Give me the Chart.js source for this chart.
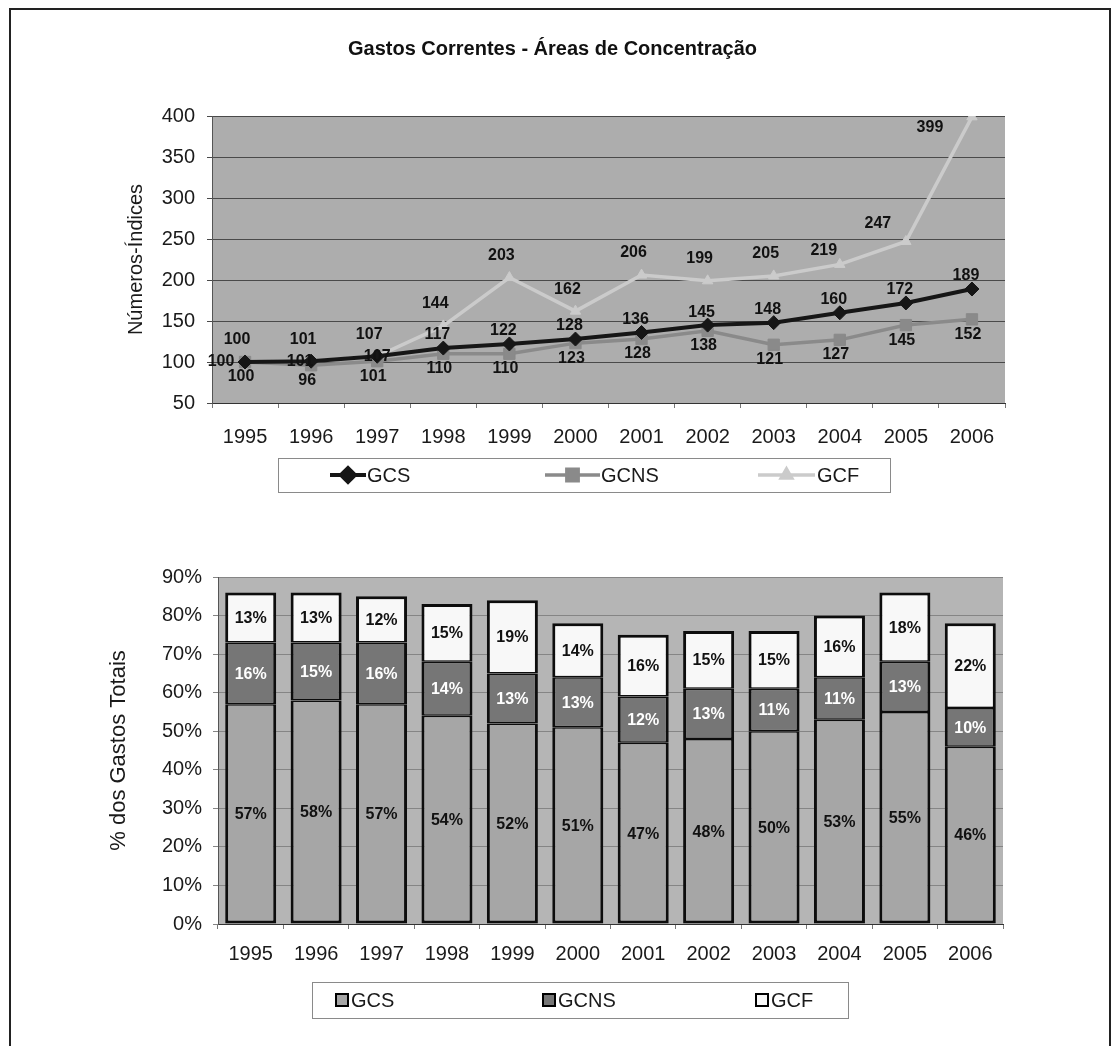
<!DOCTYPE html>
<html><head><meta charset="utf-8">
<script src="https://cdn.jsdelivr.net/npm/chart.js@4.4.1/dist/chart.umd.min.js"></script>
<style>
html,body{margin:0;padding:0;background:#fff;}
body{width:1114px;height:1046px;position:relative;overflow:hidden;}
#frame{position:absolute;left:9px;top:8px;width:1098px;height:1060px;border:2px solid #222;border-bottom:none;}
#w1{position:absolute;left:0;top:0;width:1114px;height:520px;}
#w2{position:absolute;left:0;top:520px;width:1114px;height:526px;}
canvas{display:block;}
</style></head><body>
<div id="frame"></div>
<div id="w1"><canvas id="c1" width="1114" height="520"></canvas></div>
<div id="w2"><canvas id="c2" width="1114" height="526"></canvas></div>
<script>
// ---- data ----
const years = ['1995','1996','1997','1998','1999','2000','2001','2002','2003','2004','2005','2006'];
const idxGCS  = [100,101,107,117,122,128,136,145,148,160,172,189];
const idxGCNS = [100, 96,101,110,110,123,128,138,121,127,145,152];
const idxGCF  = [100,101,107,144,203,162,206,199,205,219,247,399];
const shareGCS  = [57,58,57,54,52,51,47,48,50,53,55,46];
const shareGCNS = [16,15,16,14,13,13,12,13,11,11,13,10];
const shareGCF  = [13,13,12,15,19,14,16,15,15,16,18,22];
const titleText = 'Gastos Correntes - Áreas de Concentração';
const yTitleTop = 'Números-Índices';
const yTitleBottom = '% dos Gastos Totais';

const FONT = '"Liberation Sans", Arial, Helvetica, sans-serif';
Chart.defaults.font.family = FONT;
Chart.defaults.color = '#1a1a1a';

const plotBg = {
  id: 'plotBg',
  beforeDraw(chart, args, opts) {
    const {ctx, chartArea: a} = chart;
    ctx.save();
    ctx.fillStyle = opts.color;
    ctx.fillRect(a.left, a.top, a.width, a.height);
    ctx.restore();
  }
};

const lineLabels = {
  id: 'lineLabels',
  afterDatasetsDraw(chart, args, opts) {
    if (!opts.pos) return;
    const ctx = chart.ctx;
    ctx.save();
    ctx.font = 'bold 16px ' + FONT;
    ctx.fillStyle = '#111';
    ctx.textAlign = 'center';
    ctx.textBaseline = 'middle';
    chart.data.datasets.forEach((ds, i) => {
      const meta = chart.getDatasetMeta(i);
      const p = opts.pos[ds.label];
      meta.data.forEach((pt, j) => {
        const o = (p.over && p.over[j]) || p.base;
        ctx.fillText(String(ds.data[j]), pt.x + o[0], pt.y + o[1]);
      });
    });
    ctx.restore();
  }
};

const barLabels = {
  id: 'barLabels',
  afterDatasetsDraw(chart, args, opts) {
    if (!opts.colors) return;
    const ctx = chart.ctx;
    ctx.save();
    ctx.font = 'bold 16px ' + FONT;
    ctx.textAlign = 'center';
    ctx.textBaseline = 'middle';
    chart.data.datasets.forEach((ds, i) => {
      const meta = chart.getDatasetMeta(i);
      ctx.fillStyle = opts.colors[i];
      meta.data.forEach((b, j) => {
        ctx.fillText(ds.data[j] + '%', b.x, (b.y + b.base) / 2 + 1);
      });
    });
    ctx.restore();
  }
};

const boxLegend = {
  id: 'boxLegend',
  afterDraw(chart, args, opts) {
    if (!opts.box) return;
    const ctx = chart.ctx;
    const [bx, by, bw, bh] = opts.box;
    ctx.save();
    ctx.fillStyle = '#fff';
    ctx.fillRect(bx, by, bw, bh);
    ctx.strokeStyle = '#8a8a8a';
    ctx.lineWidth = 1;
    ctx.strokeRect(bx + 0.5, by + 0.5, bw, bh);
    const cy = by + bh / 2;
    ctx.font = '20px ' + FONT;
    ctx.textBaseline = 'middle';
    ctx.textAlign = 'left';
    chart.data.datasets.forEach((ds, i) => {
      const it = opts.items[i];
      if (opts.kind === 'line') {
        ctx.strokeStyle = ds.borderColor;
        ctx.lineWidth = ds.borderWidth;
        ctx.beginPath();
        ctx.moveTo(it.x, cy);
        ctx.lineTo(it.x + it.len, cy);
        ctx.stroke();
        ctx.fillStyle = ds.pointBackgroundColor;
        ctx.strokeStyle = ds.pointBorderColor;
        Chart.helpers.drawPoint(ctx, {pointStyle: ds.pointStyle, radius: ds.pointRadius, rotation: 0, borderWidth: 1}, it.x + it.len / 2, cy);
      } else {
        ctx.fillStyle = ds.backgroundColor;
        ctx.fillRect(it.x, cy - 6, 12, 12);
        ctx.strokeStyle = '#000';
        ctx.lineWidth = 2;
        ctx.strokeRect(it.x, cy - 6, 12, 12);
      }
      ctx.fillStyle = '#1a1a1a';
      ctx.fillText(ds.label, it.tx, cy + 1);
    });
    ctx.restore();
  }
};

// ---- top chart ----
new Chart(document.getElementById('c1'), {
  type: 'line',
  data: {
    labels: years,
    datasets: [
      {label: 'GCS', data: idxGCS, borderColor: '#161616', borderWidth: 4,
       pointStyle: 'rectRot', pointRadius: 7, pointBackgroundColor: '#161616', pointBorderColor: '#161616', pointBorderWidth: 1},
      {label: 'GCNS', data: idxGCNS, borderColor: '#8a8a8a', borderWidth: 3.5,
       pointStyle: 'rect', pointRadius: 8, pointBackgroundColor: '#8a8a8a', pointBorderColor: '#8a8a8a', pointBorderWidth: 1},
      {label: 'GCF', data: idxGCF, borderColor: '#cbcbcb', borderWidth: 3.5,
       pointStyle: 'triangle', pointRadius: 6, pointBackgroundColor: '#cbcbcb', pointBorderColor: '#cbcbcb', pointBorderWidth: 1}
    ]
  },
  options: {
    responsive: false, animation: false, devicePixelRatio: 1,
    layout: {padding: {left: 100, right: 109, top: 0, bottom: 27}},
    plugins: {
      legend: {display: false}, tooltip: {enabled: false},
      title: {display: true, text: titleText, color: '#111',
              font: {size: 20, weight: 'bold'}, padding: {top: 37, bottom: 55}},
      plotBg: {color: '#adadad'},
      lineLabels: {pos: {
        GCS:  {base: [-6, -13], over: {0: [-24, 0], 1: [-11, 0], 2: [0, 0]}},
        GCNS: {base: [-4, 15]},
        GCF:  {base: [-8, -22], over: {9: [-16, -14], 10: [-28, -18], 11: [-42, 11]}}
      }},
      boxLegend: {kind: 'line', box: [278, 458, 612, 34],
        items: [{x: 330, len: 36, tx: 367}, {x: 545, len: 55, tx: 601}, {x: 758, len: 57, tx: 817}]}
    },
    scales: {
      x: {offset: true,
          grid: {display: true, drawOnChartArea: false, offset: true, tickLength: 5, color: '#777'},
          border: {color: '#333', width: 1},
          ticks: {padding: 17, font: {size: 20}, color: '#1a1a1a'},
          afterFit: s => { s.height = 90; }},
      y: {min: 50, max: 400,
          ticks: {stepSize: 50, padding: 12, font: {size: 20}, color: '#1a1a1a'},
          grid: {color: '#4a4a4a', lineWidth: 1, tickLength: 5},
          border: {color: '#555', width: 1},
          title: {display: true, text: yTitleTop, font: {size: 20}, color: '#1a1a1a', padding: {top: 24, bottom: 0}},
          afterFit: s => { s.width = 112; }}
    }
  },
  plugins: [plotBg, lineLabels, boxLegend]
});

// ---- bottom chart ----
new Chart(document.getElementById('c2'), {
  type: 'bar',
  data: {
    labels: years,
    datasets: [
      {label: 'GCS', data: shareGCS, backgroundColor: '#a6a6a6',
       borderWidth: {top: 1.5, bottom: 3, left: 3, right: 3}},
      {label: 'GCNS', data: shareGCNS, backgroundColor: '#767676',
       borderWidth: {top: 1.5, bottom: 1.5, left: 3, right: 3}},
      {label: 'GCF', data: shareGCF, backgroundColor: '#f8f8f8',
       borderWidth: {top: 3, bottom: 1.5, left: 3, right: 3}}
    ]
  },
  options: {
    responsive: false, animation: false, devicePixelRatio: 1,
    layout: {padding: {left: 90, right: 111, top: 57, bottom: 32}},
    datasets: {bar: {borderColor: '#0d0d0d', borderSkipped: false,
                     barPercentage: 0.78, categoryPercentage: 1}},
    plugins: {
      legend: {display: false}, tooltip: {enabled: false},
      plotBg: {color: '#b5b5b5'},
      barLabels: {colors: ['#111', '#fff', '#111']},
      boxLegend: {kind: 'square', box: [312, 462, 536, 36],
        items: [{x: 336, tx: 351}, {x: 543, tx: 558}, {x: 756, tx: 771}]}
    },
    scales: {
      x: {stacked: true,
          grid: {display: true, drawOnChartArea: false, offset: true, tickLength: 5, color: '#777'},
          border: {color: '#333', width: 1},
          ticks: {padding: 13, font: {size: 20}, color: '#1a1a1a'},
          afterFit: s => { s.height = 90; }},
      y: {stacked: true, min: 0, max: 90,
          ticks: {stepSize: 10, padding: 11, font: {size: 20}, color: '#1a1a1a', callback: v => v + '%'},
          grid: {color: '#858585', lineWidth: 1, tickLength: 5},
          border: {color: '#555', width: 1},
          title: {display: true, text: yTitleBottom, font: {size: 22}, color: '#1a1a1a', padding: {top: 16, bottom: 0}},
          afterFit: s => { s.width = 128; }}
    }
  },
  plugins: [plotBg, barLabels, boxLegend]
});
</script>
</body></html>
